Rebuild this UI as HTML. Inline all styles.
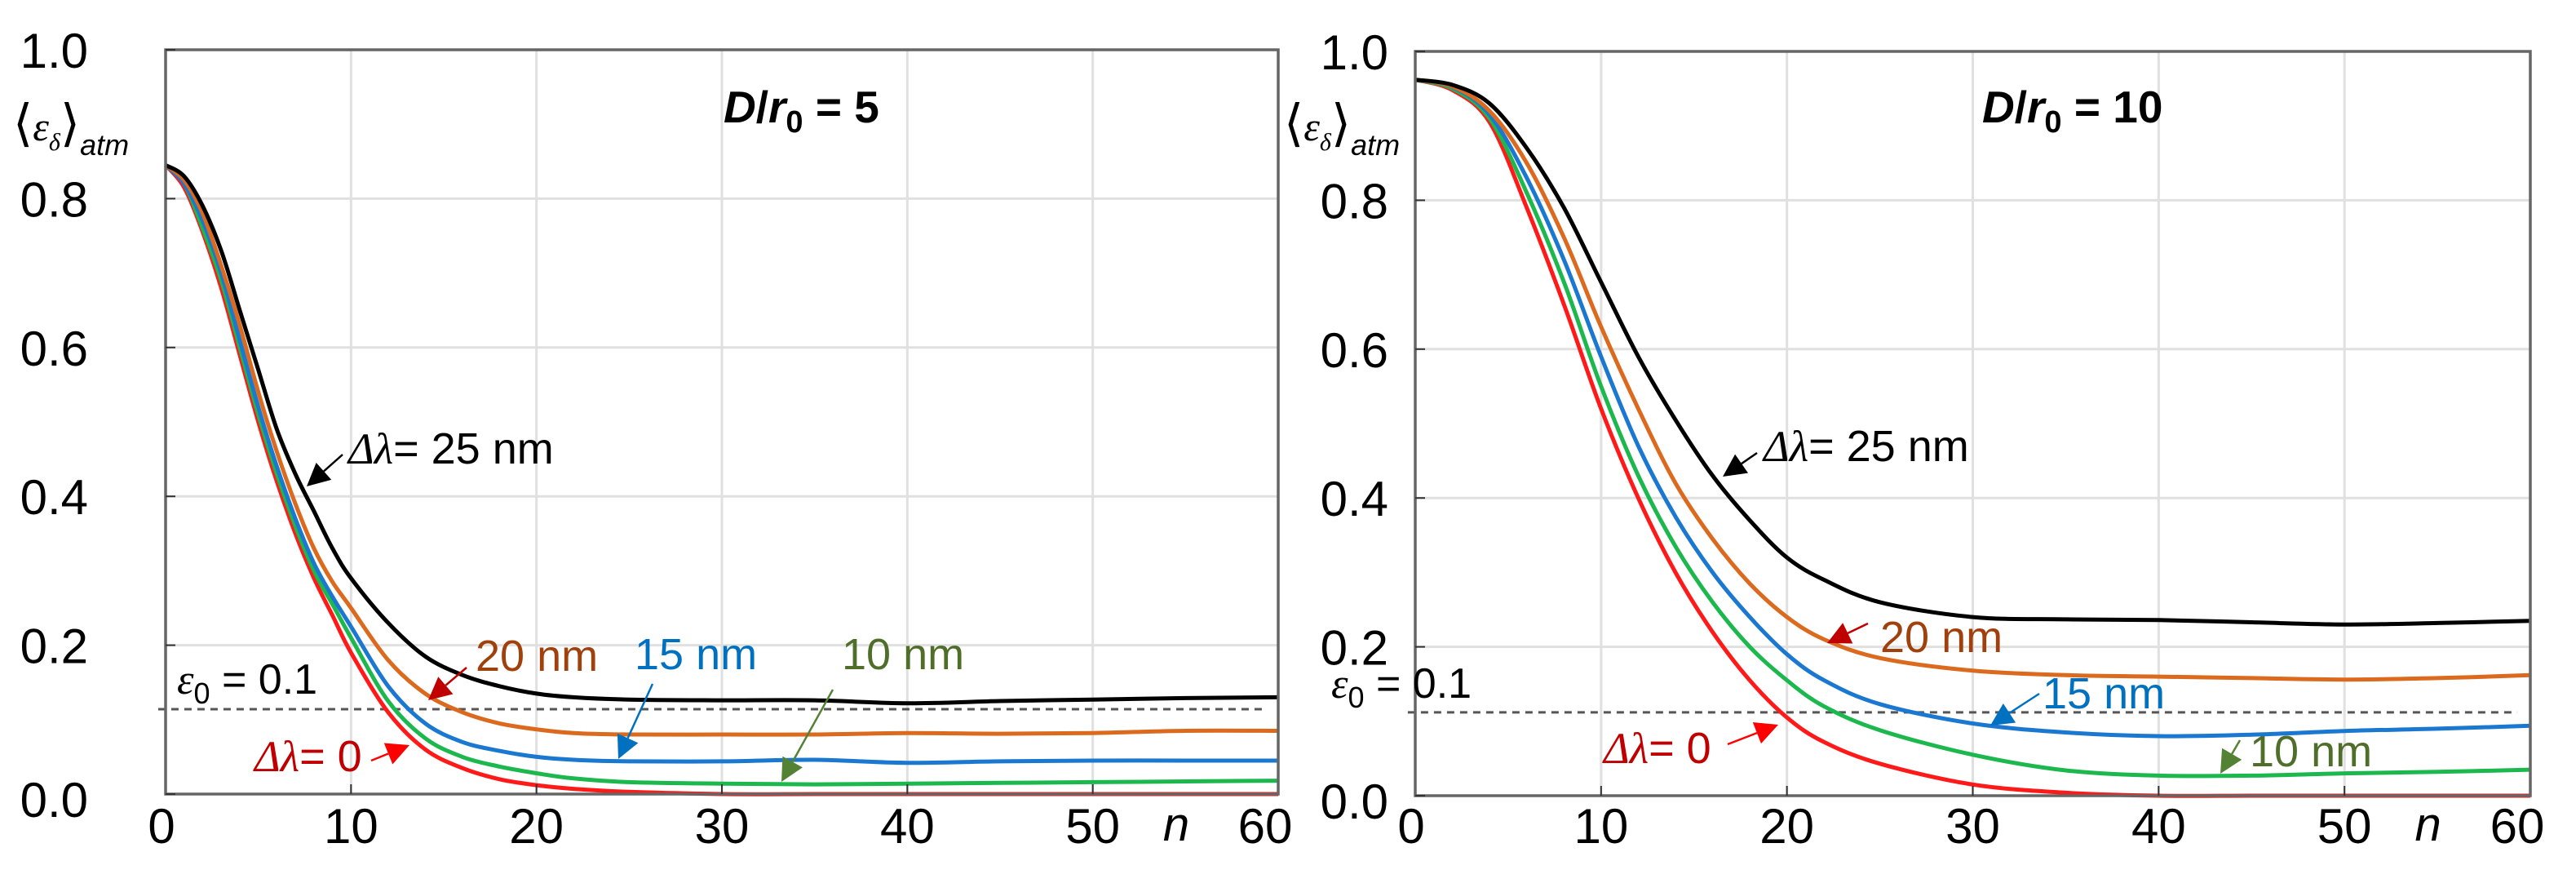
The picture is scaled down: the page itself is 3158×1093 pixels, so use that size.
<!DOCTYPE html>
<html><head><meta charset="utf-8">
<style>
html,body{margin:0;padding:0;background:#fff;}
svg{display:block;font-family:"Liberation Sans",Arial,sans-serif;}
</style></head>
<body>
<svg id="fig" width="3158" height="1093" viewBox="0 0 3158 1093" xmlns="http://www.w3.org/2000/svg">
<g id="root"></g>
</svg>
<script>
// ===== data =====
const nLeft = [0,1,2,3,4,5,6,7,8,9,10,12,14,16,18,20,22,25,30,35,40,45,50,55,60];
const leftBlack  = [.845,.83,.79,.73,.65,.57,.49,.43,.38,.33,.29,.23,.185,.16,.145,.135,.13,.127,.126,.126,.122,.125,.127,.129,.13];
const leftOrange = [.845,.825,.78,.71,.63,.54,.46,.39,.33,.285,.25,.18,.135,.11,.095,.087,.082,.08,.08,.08,.082,.081,.082,.085,.085];
const leftBlue   = [.845,.82,.77,.70,.61,.52,.44,.37,.31,.265,.225,.145,.095,.07,.058,.05,.046,.044,.044,.046,.042,.044,.045,.045,.045];
const leftGreen  = [.845,.82,.76,.69,.60,.51,.43,.36,.30,.255,.21,.125,.075,.05,.037,.028,.021,.016,.014,.013,.014,.015,.016,.017,.018];
const leftRed    = [.845,.815,.755,.68,.59,.50,.42,.35,.29,.24,.19,.11,.06,.035,.02,.012,.007,.003,0,0,0,0,0,0,0];

const nRight = [0,2,4,6,8,10,12,14,16,18,20,22,25,30,35,40,45,50,55,60];
const rightBlack  = [.962,.955,.93,.87,.79,.69,.59,.505,.43,.37,.32,.29,.26,.24,.237,.236,.233,.23,.232,.235];
const rightOrange = [.962,.953,.92,.85,.75,.63,.52,.42,.345,.285,.24,.21,.185,.168,.162,.16,.158,.156,.158,.162];
const rightBlue   = [.962,.952,.915,.83,.72,.59,.47,.375,.30,.24,.19,.155,.123,.097,.085,.08,.082,.087,.09,.094];
const rightGreen  = [.962,.95,.91,.81,.69,.55,.43,.335,.26,.20,.155,.12,.088,.055,.034,.027,.027,.03,.032,.035];
const rightRed    = [.962,.948,.905,.79,.66,.52,.40,.30,.22,.155,.105,.072,.043,.015,.004,0,0,0,0,0];

const xTicks = [0,10,20,30,40,50,60];
const yTicks = [0,0.2,0.4,0.6,0.8,1.0];
const yTickLabels = ["0.0","0.2","0.4","0.6","0.8","1.0"];
const thresholdLeft = 0.114;
const thresholdRight = 0.112;

// ===== drawing =====
const NS="http://www.w3.org/2000/svg";
const root=document.getElementById('root');
function mk(tag,attrs,parent){const e=document.createElementNS(NS,tag);for(const k in attrs)e.setAttribute(k,attrs[k]);(parent||root).appendChild(e);return e;}

function smooth(pts){
  let d="M"+pts[0][0].toFixed(1)+","+pts[0][1].toFixed(1);
  for(let i=0;i<pts.length-1;i++){
    const p0=pts[Math.max(0,i-1)],p1=pts[i],p2=pts[i+1],p3=pts[Math.min(pts.length-1,i+2)];
    const c1=[p1[0]+(p2[0]-p0[0])/6,p1[1]+(p2[1]-p0[1])/6];
    const c2=[p2[0]-(p3[0]-p1[0])/6,p2[1]-(p3[1]-p1[1])/6];
    d+=" C"+c1[0].toFixed(1)+","+c1[1].toFixed(1)+" "+c2[0].toFixed(1)+","+c2[1].toFixed(1)+" "+p2[0].toFixed(1)+","+p2[1].toFixed(1);
  }
  return d;
}

function panel(cfg){
  const g=mk('g',{});
  
  
  const X=v=>cfg.x0+(cfg.x1-cfg.x0)*v/60;
  const Y=v=>cfg.y0+(cfg.y1-cfg.y0)*v/1.0;
  xTicks.forEach(t=>{ if(t>0&&t<60){const l=mk('line',{x1:X(t),x2:X(t),y1:Y(1),y2:Y(0),stroke:'#e0e0e0','stroke-width':3},g);
    }});
  yTicks.forEach(t=>{ if(t>0&&t<1){const l=mk('line',{x1:X(0),x2:X(60),y1:Y(t),y2:Y(t),stroke:'#e0e0e0','stroke-width':3},g);
    }});
  const th=mk('line',{x1:X(-0.4),x2:X(59.3),y1:Y(cfg.th),y2:Y(cfg.th),stroke:'#555','stroke-width':3,'stroke-dasharray':'9,7'},g);
  
  cfg.series.forEach(s=>{
    const pts=cfg.n.map((n,i)=>[X(n),Y(s.v[i])]);
    const p=mk('path',{d:smooth(pts),fill:'none',stroke:s.c,'stroke-width':5,'stroke-linejoin':'round'},g);
    
  });
  const fr=mk('rect',{x:X(0),y:Y(1),width:X(60)-X(0),height:Y(0)-Y(1),fill:'none',stroke:'#666','stroke-width':3.5},g);
  
  xTicks.forEach((t,i)=>{
    if(t>0&&t<60){const tk=mk('line',{x1:X(t),x2:X(t),y1:Y(0),y2:Y(0)-12,stroke:'#333','stroke-width':2},g);
      }
    const tx=mk('text',{x:X(t)-(t===0?5:(t===60?16:0)),y:1033,'font-size':60,'text-anchor':'middle',fill:'#000'},g);
    tx.textContent=String(t);
    
  });
  yTicks.forEach((t,i)=>{
    const tk=mk('line',{x1:X(0),x2:X(0)+12,y1:Y(t),y2:Y(t),stroke:'#333','stroke-width':2},g);
    
    const tx=mk('text',{x:cfg.ylabX,y:Y(t)+(t===0?28:22),'font-size':60,'text-anchor':'end',fill:'#000'},g);
    tx.textContent=yTickLabels[i];
    
  });
  const nl=mk('text',{x:X(50)+(cfg.x1-cfg.x0)*0.075,y:1030,'font-size':58,'font-style':'italic','text-anchor':'middle'},g);
  nl.textContent='n';
  return g;
}

panel({name:'left-panel',x0:203,x1:1567,y0:973,y1:61,ylabX:108,th:thresholdLeft,n:nLeft,series:[
  {name:'series-0nm',c:'#ff1a1a',v:leftRed},
  {name:'series-10nm',c:'#1cb84e',v:leftGreen},
  {name:'series-15nm',c:'#1a78d0',v:leftBlue},
  {name:'series-20nm',c:'#dc6a1e',v:leftOrange},
  {name:'series-25nm',c:'#000000',v:leftBlack}]});
panel({name:'right-panel',x0:1735,x1:3102,y0:975,y1:63,ylabX:1702,th:thresholdRight,n:nRight,series:[
  {name:'series-0nm',c:'#ff1a1a',v:rightRed},
  {name:'series-10nm',c:'#1cb84e',v:rightGreen},
  {name:'series-15nm',c:'#1a78d0',v:rightBlue},
  {name:'series-20nm',c:'#dc6a1e',v:rightOrange},
  {name:'series-25nm',c:'#000000',v:rightBlack}]});

function arrow(x1,y1,x2,y2,color,name){
  const g=mk('g',{});
  
  const dx=x2-x1,dy=y2-y1,L=Math.hypot(dx,dy),ux=dx/L,uy=dy/L;
  const hl=28,hw=14;
  const bx=x2-ux*hl,by=y2-uy*hl;
  mk('line',{x1:x1,y1:y1,x2:bx,y2:by,stroke:color,'stroke-width':2.5},g);
  mk('path',{d:`M${x2},${y2} L${bx-uy*hw},${by+ux*hw} L${bx+uy*hw},${by-ux*hw} z`,fill:color},g);
}
function label(x,y,html,color,name,size,extra){
  const t=mk('text',Object.assign({x:x,y:y,'font-size':size||54,fill:color},extra||{}));
  t.innerHTML=html;
  
  return t;
}
const dl='<tspan font-family="Liberation Serif,serif" font-style="italic">Δλ</tspan>';
label(427,568,dl+'= 25 nm','#000','label-25nm');
arrow(420,557,376,596,'#000','arrow-25nm');
label(583,822,'20 nm','#a0400c','label-20nm');
arrow(572,818,525,858,'#c00000','arrow-20nm');
label(778,820,'15 nm','#0070c0','label-15nm');
arrow(800,838,758,930,'#0070c0','arrow-15nm');
label(1032,820,'10 nm','#4f6e2a','label-10nm');
arrow(1021,845,958,958,'#548235','arrow-10nm');
label(312,945,dl+'= 0','#c00000','label-0nm');
arrow(455,932,502,913,'#ff0000','arrow-0nm');
label(217,850,'<tspan font-family="Liberation Serif,serif" font-style="italic">ε</tspan><tspan font-size="36" dy="12">0</tspan><tspan dy="-12"> = 0.1</tspan>','#000','threshold-label',52);
label(2162,565,dl+'= 25 nm','#000','label-25nm');
arrow(2154,555,2112,584,'#000','arrow-25nm');
label(2305,799,'20 nm','#a0400c','label-20nm');
arrow(2290,764,2240,788,'#c00000','arrow-20nm');
label(2504,868,'15 nm','#0070c0','label-15nm');
arrow(2500,850,2440,889,'#0070c0','arrow-15nm');
label(2758,939,'10 nm','#4f6e2a','label-10nm');
arrow(2746,907,2722,948,'#548235','arrow-10nm');
label(1966,935,dl+'= 0','#c00000','label-0nm');
arrow(2118,912,2180,888,'#ff0000','arrow-0nm');
label(1632,855,'<tspan font-family="Liberation Serif,serif" font-style="italic">ε</tspan><tspan font-size="36" dy="12">0</tspan><tspan dy="-12"> = 0.1</tspan>','#000','threshold-label',52);
label(887,150,'<tspan font-style="italic">D</tspan>/<tspan font-style="italic">r</tspan><tspan font-size="38" dy="12">0</tspan><tspan dy="-12"> = 5</tspan>','#000','panel-title-left',55,{'font-weight':'bold'});
label(2430,150,'<tspan font-style="italic">D</tspan>/<tspan font-style="italic">r</tspan><tspan font-size="38" dy="12">0</tspan><tspan dy="-12"> = 10</tspan>','#000','panel-title-right',55,{'font-weight':'bold'});
function ytitle(x,name){
  const t=mk('text',{x:x,y:172,'font-size':50,fill:'#000'});
  t.innerHTML='<tspan font-family="DejaVu Sans,sans-serif" font-weight="100" font-size="62">⟨</tspan><tspan font-family="Liberation Serif,serif" font-style="italic">ε</tspan><tspan font-family="Liberation Serif,serif" font-style="italic" font-size="30" dy="12">δ</tspan><tspan font-family="DejaVu Sans,sans-serif" font-size="62" dy="-12">⟩</tspan><tspan font-style="italic" font-size="36" dy="18">atm</tspan>';
  
}
ytitle(16,'y-axis-title-left');
ytitle(1574,'y-axis-title-right');
</script>
</body></html>
